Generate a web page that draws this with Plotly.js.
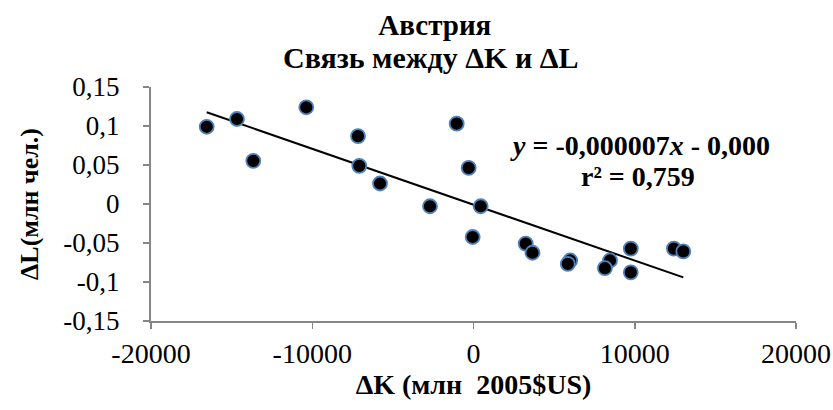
<!DOCTYPE html>
<html>
<head>
<meta charset="utf-8">
<script src="https://cdn.plot.ly/plotly-3.0.1.min.js"></script>
<style>html,body{margin:0;padding:0;background:#fff;}#chart{width:833px;height:410px;}</style>
</head>
<body>
<div id="chart"></div>
<script>
// ΔK (млн 2005$US)
const deltaK = [-16546, -14667, -13656, -10369, -7163, -7082, -5798, -2698, -1042, -298, 447, -50,
                3237, 3659, 5997, 5848, 8465, 8149, 9755, 9755, 12428, 13011];
// ΔL (млн чел.)
const deltaL = [0.099, 0.109, 0.0553, 0.124, 0.087, 0.0489, 0.0263, -0.0029, 0.103, 0.0463, -0.0029, -0.0423,
                -0.0508, -0.0625, -0.0724, -0.0768, -0.0724, -0.0823, -0.0572, -0.0876, -0.0572, -0.0607];

const xTickVals = [-20000, -10000, 0, 10000, 20000];
const xTickText = ['-20000', '-10000', '0', '10000', '20000'];
const yTickVals = [-0.15, -0.1, -0.05, 0, 0.05, 0.1, 0.15];
const yTickText = ['-0,15', '-0,1', '-0,05', '0', '0,05', '0,1', '0,15'];

const titleLines = ['Австрия', 'Связь между ΔK и ΔL'];
const equationText = '<i>y</i> = -0,000007<i>x</i> - 0,000';
const r2Text = 'r² = 0,759';

// least-squares trendline
const n = deltaK.length;
const mx = deltaK.reduce((a, b) => a + b, 0) / n;
const my = deltaL.reduce((a, b) => a + b, 0) / n;
let sxy = 0, sxx = 0;
for (let i = 0; i < n; i++) { sxy += (deltaK[i] - mx) * (deltaL[i] - my); sxx += (deltaK[i] - mx) ** 2; }
const slope = sxy / sxx;
const intercept = my - slope * mx;
const xMin = Math.min(...deltaK), xMax = Math.max(...deltaK);

const font = 'Liberation Serif, Times New Roman, serif';

const traces = [
  {
    x: [xMin, xMax],
    y: [intercept + slope * xMin, intercept + slope * xMax],
    mode: 'lines',
    line: {color: '#000000', width: 2},
    hoverinfo: 'skip',
    showlegend: false
  },
  {
    x: deltaK,
    y: deltaL,
    mode: 'markers',
    marker: {color: '#000000', size: 14, line: {color: '#4F81BD', width: 1.8}},
    showlegend: false
  }
];

const axisCommon = {
  showgrid: false,
  zeroline: false,
  showline: true,
  linecolor: '#868686',
  linewidth: 2,
  ticks: 'outside',
  ticklen: 6,
  tickwidth: 1.5,
  tickcolor: '#868686',
  tickfont: {family: font, size: 27, color: '#000'},
  tickmode: 'array'
};

const plotTop = 87, plotBottom = 321, plotH = plotBottom - plotTop;
const pyToPaper = py => (plotBottom - py) / plotH;

const layout = {
  width: 833,
  height: 410,
  margin: {l: 151, r: 37, t: 87, b: 89},
  paper_bgcolor: '#fff',
  plot_bgcolor: '#fff',
  title: {
    text: '<b>' + titleLines[0] + '</b>',
    font: {family: font, size: 29, color: '#000'},
    x: 0.522, xref: 'container', xanchor: 'center',
    y: 1 - 25 / 410, yref: 'container', yanchor: 'middle'
  },
  xaxis: Object.assign({}, axisCommon, {
    range: [-20000, 20000],
    tickvals: xTickVals,
    ticktext: xTickText,
    tickfont: {family: font, size: 28, color: '#000'},
    title: {text: '<b>ΔK (млн  2005$US)</b>', font: {family: font, size: 28, color: '#000'}, standoff: 7}
  }),
  yaxis: Object.assign({}, axisCommon, {
    range: [-0.15, 0.15],
    tickvals: yTickVals,
    ticktext: yTickText,
    ticklabelstandoff: 18,
    title: {text: '<b>ΔL(млн чел.)</b>', font: {family: font, size: 26, color: '#000'}, standoff: 17}
  }),
  annotations: [
    {
      text: '<b>' + titleLines[1] + '</b>',
      xref: 'paper', yref: 'paper',
      x: (431 - 151) / 645, y: pyToPaper(57), xanchor: 'center', yanchor: 'middle',
      showarrow: false,
      font: {family: font, size: 30, color: '#000'}
    },
    {
      text: '<b>' + equationText + '</b>',
      xref: 'paper', yref: 'paper',
      x: (640 - 151) / 645, y: pyToPaper(145), xanchor: 'center', yanchor: 'middle',
      showarrow: false,
      font: {family: font, size: 28, color: '#000'}
    },
    {
      text: '<b>' + r2Text + '</b>',
      xref: 'paper', yref: 'paper',
      x: (638 - 151) / 645, y: pyToPaper(176), xanchor: 'center', yanchor: 'middle',
      showarrow: false,
      font: {family: font, size: 28, color: '#000'}
    }
  ]
};

Plotly.newPlot('chart', traces, layout, {staticPlot: true, displayModeBar: false});
</script>
</body>
</html>
